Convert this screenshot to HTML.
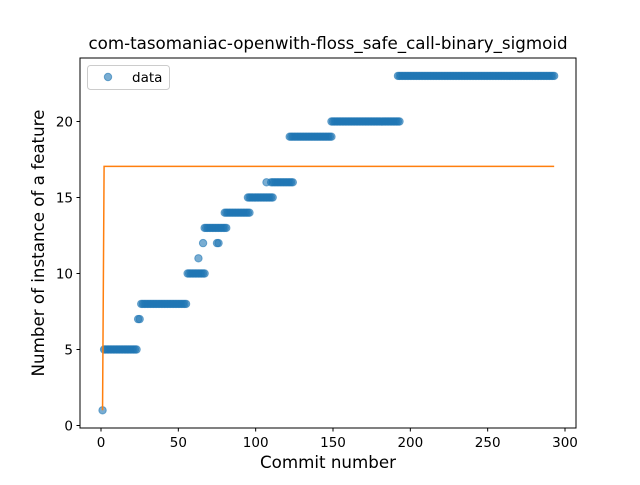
<!DOCTYPE html>
<html><head><meta charset="utf-8"><style>
body{margin:0;background:#fff}
svg text{font-family:"DejaVu Sans","Liberation Sans",sans-serif;fill:#000}
</style></head><body>
<svg id="chart" width="640" height="480" viewBox="0 0 640 480" xmlns="http://www.w3.org/2000/svg">
<rect width="640" height="480" fill="#fff"/>
<text x="328" y="49" font-size="16.7" text-anchor="middle">com-tasomaniac-openwith-floss_safe_call-binary_sigmoid</text>
<g id="marks"></g>
<g id="axes"></g>
<rect x="80" y="58" width="496" height="370" fill="none" stroke="#000" stroke-width="1"/>
<text x="328" y="468" font-size="16.7" text-anchor="middle">Commit number</text>
<text transform="translate(44,243) rotate(-90)" font-size="16.7" text-anchor="middle">Number of instance of a feature</text>
<g>
<rect x="87.5" y="65.5" width="82" height="24" rx="3" fill="#fff" fill-opacity="0.8" stroke="#ccc"/>
<circle cx="108" cy="77" r="3.7" fill="#1f77b4" fill-opacity="0.6" stroke="#1f77b4" stroke-opacity="0.6"/>
<text x="132" y="82" font-size="13.5">data</text>
</g>
</svg>
<script>
const runStart=[1,2,24,26,56,63,66,67,75,80,95,107,110,122,149,192];
const runEnd=[1,23,25,55,67,63,66,81,76,96,111,107,124,149,193,293];
const runValue=[1,5,7,8,10,11,12,13,12,14,15,16,16,19,20,23];
const fitX=[1,2,293];
const fitY=[1,17.05,17.05];
const xTicks=[0,50,100,150,200,250,300];
const yTicks=[0,5,10,15,20];
const NS="http://www.w3.org/2000/svg";
function sx(v){return 101+v*(464/300);}
function sy(v){return 425.5-v*15.2;}
const marks=document.getElementById('marks');
for(let r=0;r<runStart.length;r++){
  for(let x=runStart[r];x<=runEnd[r];x++){
    const c=document.createElementNS(NS,'circle');
    
    
    c.setAttribute('cx',sx(x));c.setAttribute('cy',sy(runValue[r]));
    c.setAttribute('r',3.7);c.setAttribute('fill','#1f77b4');c.setAttribute('fill-opacity','0.6');
    c.setAttribute('stroke','#1f77b4');c.setAttribute('stroke-opacity','0.6');c.setAttribute('stroke-width','1');
    marks.appendChild(c);
  }
}
const pl=document.createElementNS(NS,'polyline');


pl.setAttribute('points',fitX.map((x,i)=>sx(x)+','+sy(fitY[i])).join(' '));
pl.setAttribute('fill','none');pl.setAttribute('stroke','#ff7f0e');pl.setAttribute('stroke-width','1.5');
marks.appendChild(pl);
const axes=document.getElementById('axes');
xTicks.forEach(t=>{
  const l=document.createElementNS(NS,'line');
  
  
  l.setAttribute('x1',sx(t));l.setAttribute('x2',sx(t));l.setAttribute('y1',428);l.setAttribute('y2',431.5);l.setAttribute('stroke','#000');
  axes.appendChild(l);
  const tx=document.createElementNS(NS,'text');
  
  
  tx.setAttribute('x',sx(t));tx.setAttribute('y',447);tx.setAttribute('font-size','13.5');tx.setAttribute('text-anchor','middle');
  tx.textContent=t;axes.appendChild(tx);
});
yTicks.forEach(t=>{
  const l=document.createElementNS(NS,'line');
  
  
  l.setAttribute('x1',76.5);l.setAttribute('x2',80);l.setAttribute('y1',sy(t));l.setAttribute('y2',sy(t));l.setAttribute('stroke','#000');
  axes.appendChild(l);
  const tx=document.createElementNS(NS,'text');
  
  
  tx.setAttribute('x',73);tx.setAttribute('y',sy(t)+5);tx.setAttribute('font-size','13.5');tx.setAttribute('text-anchor','end');
  tx.textContent=t;axes.appendChild(tx);
});
</script>
</body></html>
